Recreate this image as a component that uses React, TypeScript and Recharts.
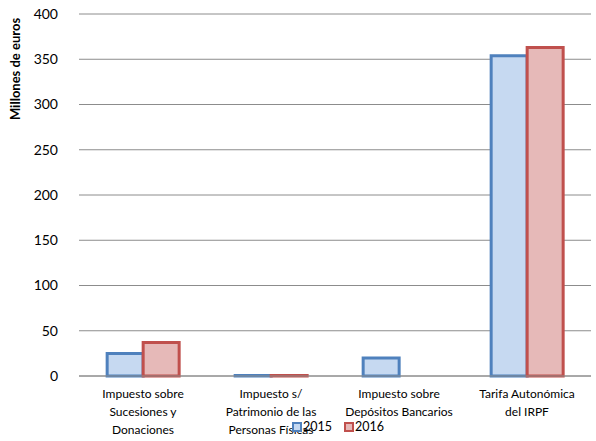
import React from "react";
import { BarChart, Bar, XAxis, YAxis, CartesianGrid, Legend } from "recharts";

const categories = [
  ["Impuesto sobre", "Sucesiones y", "Donaciones"],
  ["Impuesto s/", "Patrimonio de las", "Personas Físicas"],
  ["Impuesto sobre", "Depósitos Bancarios"],
  ["Tarifa Autonómica", "del IRPF"],
];
const values2015 = [25, 0.5, 20, 354];
const values2016 = [37, 0.5, 0, 363];
const yTicks = [0, 50, 100, 150, 200, 250, 300, 350, 400];

const data = categories.map((c, i) => ({
  name: c.join("\n"),
  v2015: values2015[i],
  v2016: values2016[i],
}));

const FONT = "Lato, 'Open Sans', sans-serif";

const XTick = (props: any) => {
  const { x, y, payload } = props;
  const lines = String(payload.value).split("\n");
  return (
    <g transform={`translate(${x},${y})`}>
      {lines.map((l: string, i: number) => (
        <text key={i} x={0} y={14 + i * 18} textAnchor="middle" fill="#000" fontSize={12} fontFamily={FONT}>
          {l}
        </text>
      ))}
    </g>
  );
};

const LegendContent = () => (
  <div style={{ display: "flex", justifyContent: "center", fontFamily: FONT, fontSize: 12.5, color: "#000", paddingLeft: 80 }}>
    <span style={{ display: "inline-flex", alignItems: "center", marginRight: 12 }}>
      <span style={{ width: 6, height: 6, background: "#C6D9F1", border: "2px solid #4F81BD", marginRight: 1 }} />
      2015
    </span>
    <span style={{ display: "inline-flex", alignItems: "center" }}>
      <span style={{ width: 6, height: 6, background: "#E6B9B8", border: "2px solid #C0504D", marginRight: 1 }} />
      2016
    </span>
  </div>
);

const YLabel = () => (
  <text
    x={20}
    y={69}
    transform="rotate(-90 20 69)"
    textAnchor="middle"
    fontFamily={FONT}
    fontWeight="bold"
    fontSize={13}
    fill="#000"
  >
    Millones de euros
  </text>
);

export default function App() {
  return (
    <div style={{ position: "absolute", left: 0, top: 0, width: 596, height: 441, background: "#fff" }}>
      <BarChart
        width={596}
        height={441}
        data={data}
        margin={{ top: 14, right: 5, left: 0, bottom: 0 }}
        barCategoryGap="22%"
        barGap={0}
      >
        <CartesianGrid vertical={false} stroke="#8c8c8c" strokeWidth={1} />
        <XAxis
          dataKey="name"
          height={65}
          tick={<XTick />}
          tickLine={false}
          axisLine={{ stroke: "#8c8c8c" }}
          interval={0}
        />
        <YAxis
          width={79}
          domain={[0, 400]}
          ticks={yTicks}
          tickLine={false}
          axisLine={false}
          tick={{ fill: "#000", fontSize: 14, fontFamily: FONT }}
          tickMargin={15}
          label={<YLabel />}
        />
        <Legend
          layout="horizontal"
          verticalAlign="middle"
          align="center"
          content={<LegendContent />}
          wrapperStyle={{ position: "absolute", top: 419, left: 0, width: 596 }}
        />
        <Bar dataKey="v2015" fill="#C6D9F1" stroke="#4F81BD" strokeWidth={3} isAnimationActive={false} />
        <Bar dataKey="v2016" fill="#E6B9B8" stroke="#C0504D" strokeWidth={3} isAnimationActive={false} />
      </BarChart>
    </div>
  );
}
